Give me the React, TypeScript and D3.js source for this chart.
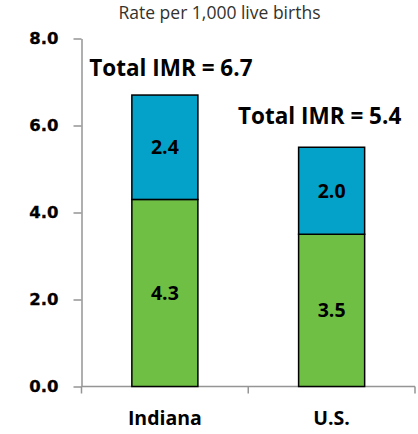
import React, { useEffect, useRef } from "react";
import * as d3 from "d3";

const categories = ["Indiana", "U.S."];
const neonatal = [4.3, 3.5];
const postneonatal = [2.4, 2.0];
const totals = [6.7, 5.4];
const yTicks = [0, 2, 4, 6, 8];

const WIDTH = 418;
const HEIGHT = 434;

const App = () => {
  const svgRef = useRef<SVGSVGElement | null>(null);

  useEffect(() => {
    const svg = d3.select(svgRef.current);
    svg.selectAll("*").remove();

    const x = d3
      .scaleBand()
      .domain(categories)
      .range([81.5, 415])
      .paddingInner(0.604)
      .paddingOuter(0.302);
    const y = d3.scaleLinear().domain([0, 8]).range([386.5, 38.5]);

    const rows = categories.map((c, i) => ({
      cat: c,
      neonatal: neonatal[i],
      postneonatal: postneonatal[i],
    }));
    const stack = d3.stack<any>().keys(["neonatal", "postneonatal"]);
    const series = stack(rows);
    const colors: Record<string, string> = {
      neonatal: "#6fbf44",
      postneonatal: "#04a2c8",
    };

    const axisColor = "#959595";

    // y axis
    const yAxis = svg
      .append("g")
      .attr("transform", `translate(${x.range()[0]},0)`)
      .call(
        d3
          .axisLeft(y)
          .tickValues(yTicks)
          .tickFormat(d3.format(".1f"))
          .tickSize(8)
          .tickSizeOuter(0)
          .tickPadding(15)
      );
    yAxis.select(".domain").attr("stroke", axisColor).attr("stroke-width", 1.5);
    yAxis.selectAll(".tick line").attr("stroke", axisColor).attr("stroke-width", 1.5);
    yAxis
      .selectAll(".tick text")
      .attr("fill", "#000")
      .attr("font-family", "DejaVu Sans, sans-serif")
      .attr("font-weight", "bold")
      .attr("font-size", 16.5)
      .attr("stroke", "#000")
      .attr("stroke-width", 0.3);

    // x axis
    const [x0, x1] = x.range();
    const xg = svg.append("g").attr("transform", `translate(0,${y(0)})`);
    xg.append("line")
      .attr("x1", x0)
      .attr("x2", x1)
      .attr("stroke", axisColor)
      .attr("stroke-width", 1.5);
    d3.range(categories.length + 1).forEach((i) => {
      const tx = x0 + i * x.step();
      xg.append("line")
        .attr("x1", tx)
        .attr("x2", tx)
        .attr("y1", 0)
        .attr("y2", 7)
        .attr("stroke", axisColor)
        .attr("stroke-width", 1.5);
    });
    xg.selectAll("text.cat")
      .data(categories)
      .join("text")
      .attr("class", "cat")
      .attr("x", (d) => (x(d) as number) + x.bandwidth() / 2)
      .attr("y", 38.5)
      .attr("text-anchor", "middle")
      .attr("font-family", "Open Sans, sans-serif")
      .attr("font-weight", "bold")
      .attr("font-size", 19.5)
      .attr("fill", "#000")
      .text((d) => d);

    // bars
    series.forEach((s) => {
      const g = svg.append("g");
      g.selectAll("rect")
        .data(s)
        .join("rect")
        .attr("x", (d: any) => x(d.data.cat) as number)
        .attr("y", (d) => y(d[1]))
        .attr("width", x.bandwidth())
        .attr("height", (d) => y(d[0]) - y(d[1]))
        .attr("fill", colors[s.key])
        .attr("stroke", "#000")
        .attr("stroke-width", 1.5);
      g.selectAll("text")
        .data(s)
        .join("text")
        .attr("x", (d: any) => (x(d.data.cat) as number) + x.bandwidth() / 2)
        .attr("y", (d) => (y(d[0]) + y(d[1])) / 2)
        .attr("dy", "0.36em")
        .attr("text-anchor", "middle")
        .attr("font-family", "Open Sans, sans-serif")
        .attr("font-weight", "bold")
        .attr("font-size", 19.5)
        .attr("fill", "#000")
        .text((d) => d3.format(".1f")(d[1] - d[0]));
    });

    // total labels
    const totalOffsets = [6, -12];
    const totalGaps = [19, 23];
    svg
      .selectAll("text.total")
      .data(categories)
      .join("text")
      .attr("class", "total")
      .attr("x", (d, i) => (x(d) as number) + x.bandwidth() / 2 + totalOffsets[i])
      .attr("y", (d, i) => y(neonatal[i] + postneonatal[i]) - totalGaps[i])
      .attr("text-anchor", "middle")
      .attr("font-family", "Open Sans, sans-serif")
      .attr("font-weight", "bold")
      .attr("font-size", 22.5)
      .attr("fill", "#000")
      .text((d, i) => `Total IMR = ${d3.format(".1f")(totals[i])}`);

    // subtitle
    svg
      .append("text")
      .attr("x", 219.5)
      .attr("y", 18.5)
      .attr("text-anchor", "middle")
      .attr("font-family", "Open Sans, sans-serif")
      .attr("font-size", 17.5)
      .attr("fill", "#33322e")
      .text("Rate per 1,000 live births");
  }, []);

  return (
    <svg
      ref={svgRef}
      width={WIDTH}
      height={HEIGHT}
      style={{ position: "absolute", left: 0, top: 0, background: "#fff" }}
    ></svg>
  );
};

export default App;
